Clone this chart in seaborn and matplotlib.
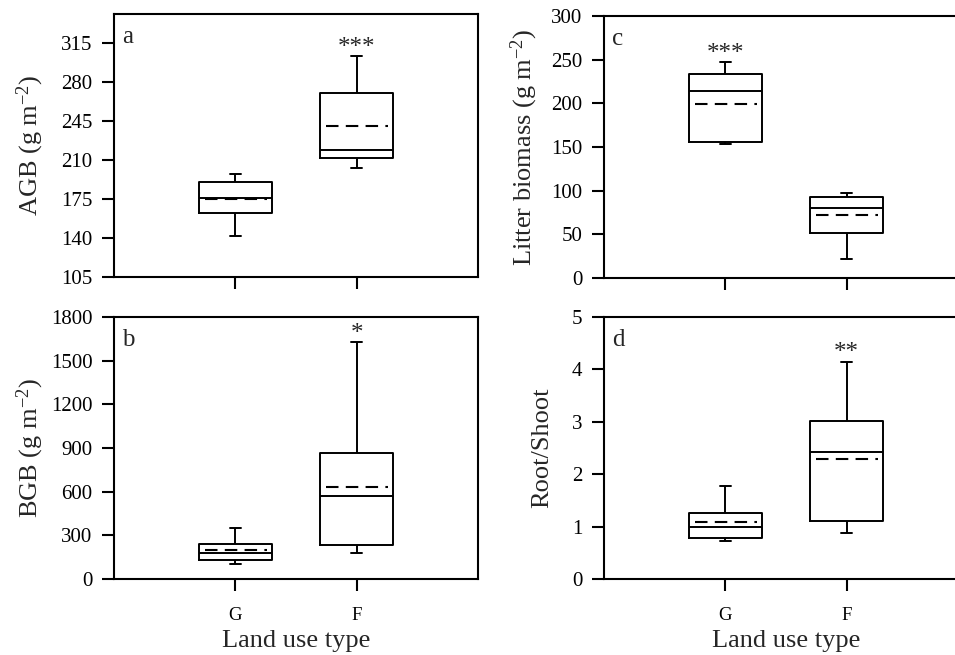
import numpy as np
import pandas as pd
import matplotlib
matplotlib.use("Agg")
import matplotlib.pyplot as plt
import seaborn as sns

# ---- data (five-number summaries and means) ----
land_use = ["G", "F"]

agb_min = [142, 202.5]
agb_q1 = [162.7, 211.7]
agb_med = [175.6, 218.9]
agb_q3 = [190.2, 269.8]
agb_max = [197.4, 303.2]
agb_mean = [175.0, 240.7]

bgb_min = [103, 178]
bgb_q1 = [132, 231]
bgb_med = [178, 572]
bgb_q3 = [242, 865]
bgb_max = [350, 1625]
bgb_mean = [196, 632]

lit_min = [154, 21.8]
lit_q1 = [156, 52]
lit_med = [214.4, 79.6]
lit_q3 = [233.6, 92.5]
lit_max = [247.7, 96.8]
lit_mean = [199.5, 71.6]

rs_min = [0.73, 0.88]
rs_q1 = [0.79, 1.10]
rs_med = [1.00, 2.42]
rs_q3 = [1.26, 3.02]
rs_max = [1.77, 4.15]
rs_mean = [1.08, 2.29]

y_labels = [r"AGB (g m$^{\mathregular{-2}}$)", r"BGB (g m$^{\mathregular{-2}}$)",
            r"Litter biomass (g m$^{\mathregular{-2}}$)", "Root/Shoot"]
panel_letters = ["a", "b", "c", "d"]
stars = ["***", "*", "***", "**"]
star_group = ["F", "F", "G", "F"]
y_ticks = [[105, 140, 175, 210, 245, 280, 315],
           [0, 300, 600, 900, 1200, 1500, 1800],
           [0, 50, 100, 150, 200, 250, 300],
           [0, 1, 2, 3, 4, 5]]
y_lims = [(105, 341), (0, 1800), (0, 300), (0, 5)]

# ---- style ----
sns.set_theme(style="ticks")
plt.rcParams["font.family"] = ["Liberation Serif", "DejaVu Serif"]
plt.rcParams["mathtext.fontset"] = "custom"
plt.rcParams["mathtext.rm"] = "Liberation Serif"
plt.rcParams["mathtext.it"] = "Liberation Serif:italic"
plt.rcParams["mathtext.bf"] = "Liberation Serif:bold"

W, H = 955, 655
fig = plt.figure(figsize=(W / 100, H / 100), dpi=100)

def rect(l, r, t, b):
    return [l / W, (H - b) / H, (r - l) / W, (b - t) / H]

axes = [
    fig.add_axes(rect(114, 478, 14, 277)),
    fig.add_axes(rect(114, 478, 317, 579)),
    fig.add_axes(rect(604, 968, 16, 278)),
    fig.add_axes(rect(604, 968, 317, 579)),
]
label_x = [-0.187, -0.187, -0.176, -0.14]

summaries = [
    (agb_min, agb_q1, agb_med, agb_q3, agb_max, agb_mean),
    (bgb_min, bgb_q1, bgb_med, bgb_q3, bgb_max, bgb_mean),
    (lit_min, lit_q1, lit_med, lit_q3, lit_max, lit_mean),
    (rs_min, rs_q1, rs_med, rs_q3, rs_max, rs_mean),
]

lw = 1.4
for i, ax in enumerate(axes):
    mn, q1, md, q3, mx, mean = summaries[i]
    rows = []
    for g, a, b, c, d, e in zip(land_use, mn, q1, md, q3, mx):
        for v in (a, b, c, d, e):
            rows.append({"type": g, "value": v})
    df = pd.DataFrame(rows)
    sns.boxplot(data=df, x="type", y="value", order=land_use, ax=ax,
                whis=(0, 100), width=0.6, fill=False, color="black",
                linewidth=lw, showfliers=False, capwidths=0.09,
                boxprops=dict(color="black"),
                medianprops=dict(color="black", linewidth=lw),
                whiskerprops=dict(color="black", linewidth=lw),
                capprops=dict(color="black", linewidth=lw))
    # mean as dashed line across box
    for k, m in enumerate(mean):
        ax.plot([k - 0.25, k + 0.26], [m, m], color="black", lw=1.5,
                dashes=(6, 3.5), solid_capstyle="butt")
    ax.set_xlim(-1, 2)
    ax.set_ylim(*y_lims[i])
    ax.set_yticks(y_ticks[i])
    ax.set_ylabel(y_labels[i], fontsize=19)
    ax.yaxis.set_label_coords(label_x[i], 0.5)
    for s in ax.spines.values():
        s.set_linewidth(1.5)
        s.set_color("black")
    ax.tick_params(axis="both", direction="out", length=8.5, width=1.5,
                   colors="black", labelsize=15, pad=7)
    ax.tick_params(axis="y", which="both", right=False)
    ax.tick_params(axis="x", which="both", top=False)
    ax.text(0.022, 0.955, panel_letters[i], transform=ax.transAxes,
            ha="left", va="top", fontsize=18)
    gi = land_use.index(star_group[i])
    ax.annotate(stars[i], xy=(gi, mx[gi]), xytext=(0, 1.5),
                textcoords="offset points", ha="center", va="baseline",
                fontsize=18)
    if i in (0, 2):
        ax.set_xlabel("")
        ax.set_xticklabels([])
    else:
        ax.set_xlabel("Land use type", fontsize=19, labelpad=4)
        ax.tick_params(axis="x", labelsize=13.5, pad=12)

fig.savefig("out.png", dpi=100)
